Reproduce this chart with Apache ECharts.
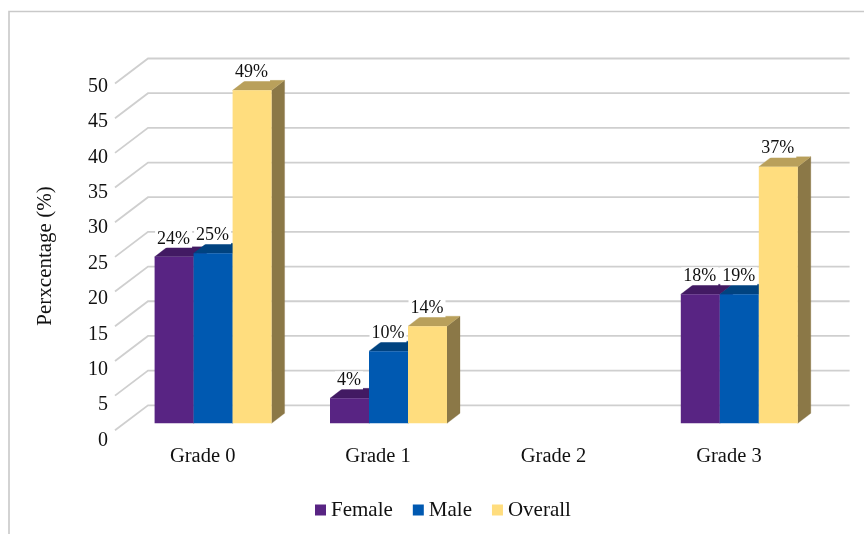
<!DOCTYPE html>
<html><head><meta charset="utf-8">
<style>html,body{margin:0;padding:0;background:#fff}#c{width:864px;height:534px}</style>
<script src="https://cdn.jsdelivr.net/npm/echarts@6/dist/echarts.min.js"></script>
</head><body><div id="c"></div>
<script>
const categories = ['Grade 0','Grade 1','Grade 2','Grade 3'];
const female = [24, 3.6, null, 18.6];
const male = [24.5, 10.4, null, 18.6];
const overall = [48, 14, null, 37];
const femaleLabels = ['24%','4%','','18%'];
const maleLabels = ['25%','10%','','19%'];
const overallLabels = ['49%','14%','','37%'];
const yTicks = [0,5,10,15,20,25,30,35,40,45,50];
const yAxisTitle = 'Perxcentage (%)';

const FONT = '"Liberation Serif","Times New Roman",serif';
const WALL = {dx:33, dy:25};
const BAR = {shiftX:10.4, shiftY:7, dx:13, dy:10, frac:39/175.4};

function barSeries(name, values, labels, slot, colors){
  return {
    name, type:'custom', xAxisIndex:0, yAxisIndex:0, z:5,
    coordinateSystem:'cartesian2d', clip:false,
    itemStyle:{color:colors.front},
    encode:{x:0,y:1},
    data:categories.map((c,i)=>[i, values[i]]),
    renderItem(params, api){
      const v = api.value(1);
      if (v === null || isNaN(v)) return;
      const cat = api.value(0);
      const base = api.coord([cat,0]);
      const top = api.coord([cat,v]);
      const w = api.size([1,0])[0]*BAR.frac;
      const xl = base[0]+BAR.shiftX-1.5*w+slot*w, xr = xl+w;
      const yb = base[1]-BAR.shiftY, yt = top[1]-BAR.shiftY;
      const poly = (pts,fill)=>({type:'polygon',shape:{points:pts},style:{fill,stroke:fill,lineWidth:0.3}});
      return {type:'group',children:[
        poly([[xr,yb],[xr+BAR.dx,yb-BAR.dy],[xr+BAR.dx,yt-BAR.dy],[xr,yt]],colors.side),
        poly([[xl,yt],[xr,yt],[xr+BAR.dx,yt-BAR.dy],[xl+BAR.dx,yt-BAR.dy]],colors.top),
        {type:'rect',shape:{x:xl,y:yt,width:w,height:yb-yt},style:{fill:colors.front}},
        {type:'text',z2:50,style:{text:labels[params.dataIndex],x:(xl+xr)/2-0.5,y:yt-18,align:'center',verticalAlign:'middle',
          font:'18px '+FONT,fill:'#111',backgroundColor:'#fff',padding:[0,2]}}
      ]};
    }
  };
}

const chart = echarts.init(document.getElementById('c'));
chart.setOption({
  animation:false,
  backgroundColor:'#fff',
  legend:{left:310,top:494.5,itemWidth:11,itemHeight:11,itemGap:20,icon:'rect',
    data:['Female','Male','Overall'],
    textStyle:{fontFamily:FONT,fontSize:21,color:'#111'}},
  grid:[
    {left:115,top:83.5,width:701.6,height:346.8},
    {left:115,top:86.5,width:701.6,height:354}
  ],
  xAxis:[
    {type:'category',gridIndex:0,data:categories,axisLine:{show:false},axisTick:{show:false},
     axisLabel:{margin:16,fontFamily:FONT,fontSize:20.5,color:'#111'}},
    {type:'category',gridIndex:1,data:categories,show:false}
  ],
  yAxis:[
    {type:'value',gridIndex:0,min:0,max:50,interval:5,axisLabel:{show:false},axisLine:{show:false},axisTick:{show:false},splitLine:{show:false}},
    {type:'value',gridIndex:1,min:0,max:50,interval:5,axisLine:{show:false},axisTick:{show:false},splitLine:{show:false},
     axisLabel:{margin:7,fontFamily:FONT,fontSize:20,color:'#111'}}
  ],
  graphic:[
    {type:'polyline',silent:true,z:-1,shape:{points:[[9,534],[9,11.5],[864,11.5]]},style:{stroke:'#c9c9c9',lineWidth:1.6,fill:'none'}},
    {type:'text',silent:true,x:45,y:256,rotation:Math.PI/2,style:{text:yAxisTitle,align:'center',verticalAlign:'middle',font:'21px '+FONT,fill:'#111'}}
  ],
  series:[
    {type:'custom',name:'grid',coordinateSystem:'cartesian2d',xAxisIndex:0,yAxisIndex:0,z:1,clip:false,silent:true,
     encode:{y:0},data:yTicks.map(v=>[v]),
     renderItem(params,api){
       const y = api.coord([0,api.value(0)])[1];
       const l = params.coordSys.x, r = l+params.coordSys.width;
       return {type:'polyline',shape:{points:[[l,y],[l+WALL.dx,y-WALL.dy],[r+WALL.dx,y-WALL.dy]]},
         style:{stroke:'#cfcfcf',lineWidth:1.8,fill:'none'}};
     }},
    barSeries('Female',female,femaleLabels,0,{front:'#582483',top:'#421a63',side:'#421a63'}),
    barSeries('Male',male,maleLabels,1,{front:'#0059b1',top:'#004380',side:'#004380'}),
    barSeries('Overall',overall,overallLabels,2,{front:'#ffdd7e',top:'#b9a05b',side:'#8b7847'})
  ]
});
</script></body></html>
